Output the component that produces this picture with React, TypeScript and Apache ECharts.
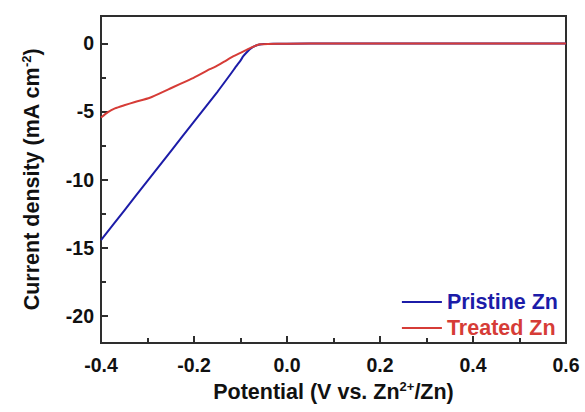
import React, { useEffect, useRef } from "react";
import * as echarts from "echarts";

// Pristine Zn LSV curve
const pristinePotential = [-0.4, -0.35, -0.3, -0.25, -0.2, -0.15, -0.12, -0.11, -0.1, -0.094, -0.087, -0.08, -0.072, -0.065, -0.058, -0.05, -0.04, -0.02, 0.0, 0.1, 0.2, 0.3, 0.4, 0.5, 0.6];
const pristineCurrent = [-14.45, -12.28, -10.1, -7.93, -5.75, -3.58, -2.2, -1.72, -1.27, -0.95, -0.68, -0.44, -0.25, -0.15, -0.09, -0.06, -0.05, -0.04, -0.03, -0.02, -0.02, -0.01, -0.01, -0.01, -0.01];

// Treated Zn LSV curve
const treatedPotential = [-0.4, -0.385, -0.37, -0.35, -0.327, -0.295, -0.255, -0.205, -0.166, -0.155, -0.135, -0.115, -0.1, -0.085, -0.076, -0.065, -0.058, -0.041, 0.0, 0.1, 0.2, 0.3, 0.4, 0.5, 0.6];
const treatedCurrent = [-5.45, -5.05, -4.78, -4.55, -4.31, -4.0, -3.38, -2.6, -1.9, -1.74, -1.35, -0.95, -0.7, -0.45, -0.3, -0.15, -0.08, -0.05, -0.03, -0.02, -0.02, -0.02, -0.02, -0.02, -0.02];

const seriesNames = ["Pristine Zn", "Treated Zn"];
const seriesColors = ["#1c1ca8", "#d63c37"];

const yMajorTicks = [-20, -15, -10, -5, 0];
const yMinorTicks = [-17.5, -12.5, -7.5, -2.5];

const AXIS_COLOR = "#2e2e2e";
const TITLE_FONT = "'Liberation Sans', Arial, sans-serif";
const TICK_FONT = "'Liberation Sans', Arial, sans-serif";

export default function App() {
  const ref = useRef<HTMLDivElement>(null);

  useEffect(() => {
    if (!ref.current) return;
    const chart = echarts.init(ref.current, undefined, { renderer: "svg" });

    const zip = (xs: number[], ys: number[]) => xs.map((x, i) => [x, ys[i]]);

    const option: any = {
      animation: false,
      backgroundColor: "#ffffff",
      grid: {
        left: 101,
        right: 19,
        top: 16,
        bottom: 69,
        show: true,
        borderColor: AXIS_COLOR,
        borderWidth: 2,
        backgroundColor: "transparent",
      },
      legend: {
        orient: "vertical",
        right: 22,
        top: 286,
        icon: "rect",
        itemWidth: 40,
        itemHeight: 2,
        itemGap: 4,
        itemTextGap: 7,
        data: seriesNames.map((n, i) => ({
          name: n,
          textStyle: { color: seriesColors[i] },
        })),
        textStyle: {
          fontFamily: TITLE_FONT,
          fontWeight: "bold",
          fontSize: 21.5,
          lineHeight: 22,
        },
      },
      xAxis: {
        type: "value",
        min: -0.4,
        max: 0.6,
        interval: 0.2,
        name: "Potential (V vs. Zn{sup|2+}/Zn)",
        nameLocation: "middle",
        nameGap: 37,
        nameTextStyle: {
          fontFamily: TITLE_FONT,
          fontWeight: "bold",
          fontSize: 21.5,
          color: "#111",
          rich: {
            sup: {
              fontFamily: TITLE_FONT,
              fontWeight: "bold",
              fontSize: 13,
              color: "#111",
              padding: [0, 0, 10, 0],
            },
          },
        },
        axisLine: { show: true, onZero: false, lineStyle: { color: AXIS_COLOR, width: 2 } },
        axisTick: { show: true, inside: true, length: 7, lineStyle: { color: AXIS_COLOR, width: 2 } },
        minorTick: { show: true, splitNumber: 2, length: 5, lineStyle: { color: AXIS_COLOR, width: 2 } },
        splitLine: { show: false },
        minorSplitLine: { show: false },
        axisLabel: {
          margin: 12,
          fontFamily: TICK_FONT,
          fontWeight: "bold",
          fontSize: 19.5,
          color: "#111",
          formatter: (v: number) => (Math.abs(v) < 1e-9 ? 0 : v).toFixed(1),
        },
      },
      yAxis: [
        {
          type: "value",
          min: -22,
          max: 2,
          position: "left",
          name: "Current density (mA cm{sup|-2})",
          nameLocation: "middle",
          nameRotate: 90,
          nameGap: 58,
          nameTextStyle: {
            fontFamily: TITLE_FONT,
            fontWeight: "bold",
            fontSize: 21.5,
            color: "#111",
            rich: {
              sup: {
                fontFamily: TITLE_FONT,
                fontWeight: "bold",
                fontSize: 13,
                color: "#111",
                padding: [0, 0, 10, 0],
              },
            },
          },
          axisLine: { show: true, onZero: false, lineStyle: { color: AXIS_COLOR, width: 2 } },
          axisTick: {
            show: true,
            inside: true,
            length: 7,
            customValues: yMajorTicks,
            lineStyle: { color: AXIS_COLOR, width: 2 },
          },
          splitLine: { show: false },
          axisLabel: {
            margin: 7,
            customValues: yMajorTicks,
            fontFamily: TICK_FONT,
            fontWeight: "bold",
            fontSize: 19.5,
            color: "#111",
            formatter: (v: number) => String(v),
          },
        },
        {
          type: "value",
          min: -22,
          max: 2,
          position: "left",
          offset: 0,
          axisLine: { show: false, onZero: false },
          axisLabel: { show: false },
          splitLine: { show: false },
          axisTick: {
            show: true,
            inside: true,
            length: 5,
            customValues: yMinorTicks,
            lineStyle: { color: AXIS_COLOR, width: 2 },
          },
        },
      ],
      series: [
        {
          name: seriesNames[0],
          type: "line",
          yAxisIndex: 0,
          symbol: "none",
          smooth: 0.2,
          data: zip(pristinePotential, pristineCurrent),
          lineStyle: { color: seriesColors[0], width: 2 },
          itemStyle: { color: seriesColors[0] },
        },
        {
          name: seriesNames[1],
          type: "line",
          yAxisIndex: 0,
          symbol: "none",
          smooth: 0.2,
          data: zip(treatedPotential, treatedCurrent),
          lineStyle: { color: seriesColors[1], width: 2 },
          itemStyle: { color: seriesColors[1] },
        },
      ],
    };

    chart.setOption(option);
    return () => chart.dispose();
  }, []);

  return <div ref={ref} style={{ width: 585, height: 412, position: "fixed", left: 0, top: 0 }} />;
}
